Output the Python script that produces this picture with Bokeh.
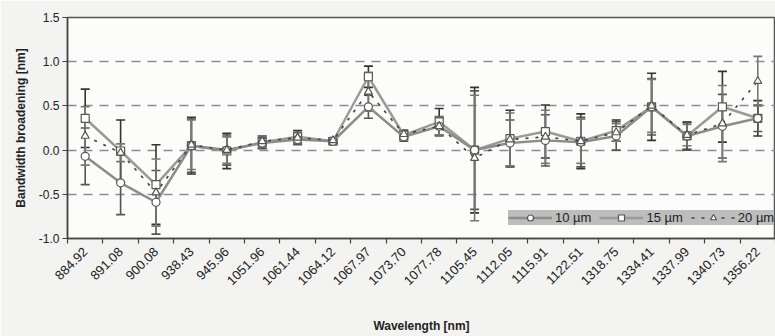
import math
from bokeh.plotting import figure
from bokeh.models import (ColumnDataSource, Whisker, TeeHead, FixedTicker,
                          Legend, LegendItem, Range1d)
from bokeh.embed import file_html
from bokeh.resources import INLINE

wavelengths = ["884.92", "891.08", "900.08", "938.43", "945.96", "1051.96",
               "1061.44", "1064.12", "1067.97", "1073.70", "1077.78", "1105.45",
               "1112.05", "1115.91", "1122.51", "1318.75", "1334.41", "1337.99",
               "1340.73", "1356.22"]

s10 = [-0.07, -0.37, -0.59, 0.05, 0.00, 0.08, 0.12, 0.10, 0.49, 0.15,
       0.27, 0.00, 0.08, 0.11, 0.09, 0.16, 0.49, 0.16, 0.27, 0.36]
e10 = [0.32, 0.36, 0.36, 0.30, 0.17, 0.06, 0.06, 0.03, 0.13, 0.05,
       0.11, 0.67, 0.26, 0.29, 0.28, 0.16, 0.32, 0.16, 0.36, 0.15]

s15 = [0.36, -0.01, -0.39, 0.05, -0.01, 0.09, 0.15, 0.10, 0.83, 0.17,
       0.32, 0.00, 0.13, 0.21, 0.10, 0.22, 0.49, 0.16, 0.49, 0.36]
e15 = [0.33, 0.35, 0.45, 0.32, 0.20, 0.07, 0.07, 0.03, 0.12, 0.05,
       0.15, 0.71, 0.32, 0.30, 0.31, 0.12, 0.38, 0.15, 0.40, 0.20]

s20 = [0.16, -0.03, -0.48, 0.06, 0.00, 0.10, 0.14, 0.11, 0.66, 0.18,
       0.27, -0.09, 0.12, 0.15, 0.10, 0.20, 0.50, 0.17, 0.30, 0.78]
e20 = [0.33, 0.10, 0.38, 0.28, 0.15, 0.06, 0.06, 0.03, 0.22, 0.05,
       0.10, 0.71, 0.30, 0.30, 0.25, 0.10, 0.30, 0.12, 0.43, 0.28]

y_ticks = [-1.0, -0.5, 0.0, 0.5, 1.0, 1.5]
grid_levels = [-0.5, 0.0, 0.5, 1.0]

n = len(wavelengths)
xs = [i + 0.5 for i in range(n)]
y_min, y_max = -1.0, 1.5

FONT = "Liberation Sans"

p = figure(width=775, height=336, output_backend="svg", toolbar_location=None,
           x_range=Range1d(0, n), y_range=Range1d(y_min, y_max),
           min_border_left=67, min_border_right=0, min_border_top=17,
           min_border_bottom=95)
p.background_fill_color = "#fcfcfb"
p.border_fill_color = "#f3f3f1"
p.outline_line_color = "#555555"
p.outline_line_width = 1.5

# labels at category centres, tick marks at category boundaries
p.xaxis.ticker = FixedTicker(ticks=xs, minor_ticks=list(range(n + 1)))
p.xaxis.major_label_overrides = {x: w for x, w in zip(xs, wavelengths)}
p.xaxis.major_tick_line_color = None
p.xaxis.major_tick_out = 0
p.xaxis.major_tick_in = 0
p.xaxis.minor_tick_line_color = "#444444"
p.xaxis.minor_tick_line_width = 1.2
p.xaxis.minor_tick_out = 5
p.xaxis.minor_tick_in = 0
p.xaxis.major_label_orientation = math.pi / 4
p.xaxis.major_label_standoff = 6
p.xaxis.axis_label = "Wavelength [nm]"
p.xaxis.axis_label_standoff = 27

p.yaxis.ticker = FixedTicker(ticks=y_ticks)
p.yaxis.major_label_overrides = {t: f"{t:.1f}" for t in y_ticks}
p.yaxis.minor_tick_line_color = None
p.yaxis.major_tick_line_color = "#444444"
p.yaxis.major_tick_out = 5
p.yaxis.major_tick_in = 0
p.yaxis.major_label_standoff = 3
p.yaxis.axis_label = "Bandwidth broadening [nm]"
p.yaxis.axis_label_standoff = 8

for ax in (p.xaxis, p.yaxis):
    ax.axis_line_color = "#444444"
    ax.axis_line_width = 1.5
    ax.major_label_text_font = FONT
    ax.major_label_text_color = "#222222"
    ax.axis_label_text_font = FONT
    ax.axis_label_text_font_size = "12px"
    ax.axis_label_text_font_style = "bold"
    ax.axis_label_text_color = "#222222"
p.xaxis.major_label_text_font_size = "13px"
p.yaxis.major_label_text_font_size = "12px"

p.xgrid.grid_line_color = None
p.ygrid.ticker = FixedTicker(ticks=grid_levels)
p.ygrid.grid_line_color = "#8a8a98"
p.ygrid.grid_line_dash = "9 7"
p.ygrid.grid_line_width = 1.5


def add_series(vals, errs, line_color, line_dash, line_width, marker,
               err_color):
    src = ColumnDataSource(dict(
        x=xs, y=vals,
        up=[v + e for v, e in zip(vals, errs)],
        lo=[v - e for v, e in zip(vals, errs)]))
    w = Whisker(source=src, base="x", upper="up", lower="lo",
                dimension="height", line_color=err_color, line_width=1.6,
                upper_head=TeeHead(size=9, line_color=err_color, line_width=1.6),
                lower_head=TeeHead(size=9, line_color=err_color, line_width=1.6))
    p.add_layout(w)
    ln = p.line("x", "y", source=src, line_color=line_color,
                line_width=line_width, line_dash=line_dash)
    sc = p.scatter("x", "y", source=src, marker=marker, size=8,
                   fill_color="white", line_color="#555555", line_width=1.2)
    return [ln, sc]


r15 = add_series(s15, e15, "#9a9a9a", "solid", 2.5, "square", "#333333")
r10 = add_series(s10, e10, "#8c8c8c", "solid", 2.5, "circle", "#555555")
r20 = add_series(s20, e20, "#444444", "3 7", 1.6, "triangle", "#777777")

legend = Legend(items=[LegendItem(label="10 \u00b5m", renderers=r10),
                       LegendItem(label="15 \u00b5m", renderers=r15),
                       LegendItem(label="20 \u00b5m", renderers=r20)],
                orientation="horizontal", location=(441, 13),
                background_fill_color="#bdbdbd", background_fill_alpha=1.0,
                border_line_color=None, glyph_width=44, glyph_height=15,
                label_standoff=3, spacing=8, padding=2, margin=0,
                label_text_font=FONT, label_text_font_size="13px",
                label_text_color="#222222")
p.add_layout(legend)

open("out.html", "w").write(file_html(p, INLINE))
